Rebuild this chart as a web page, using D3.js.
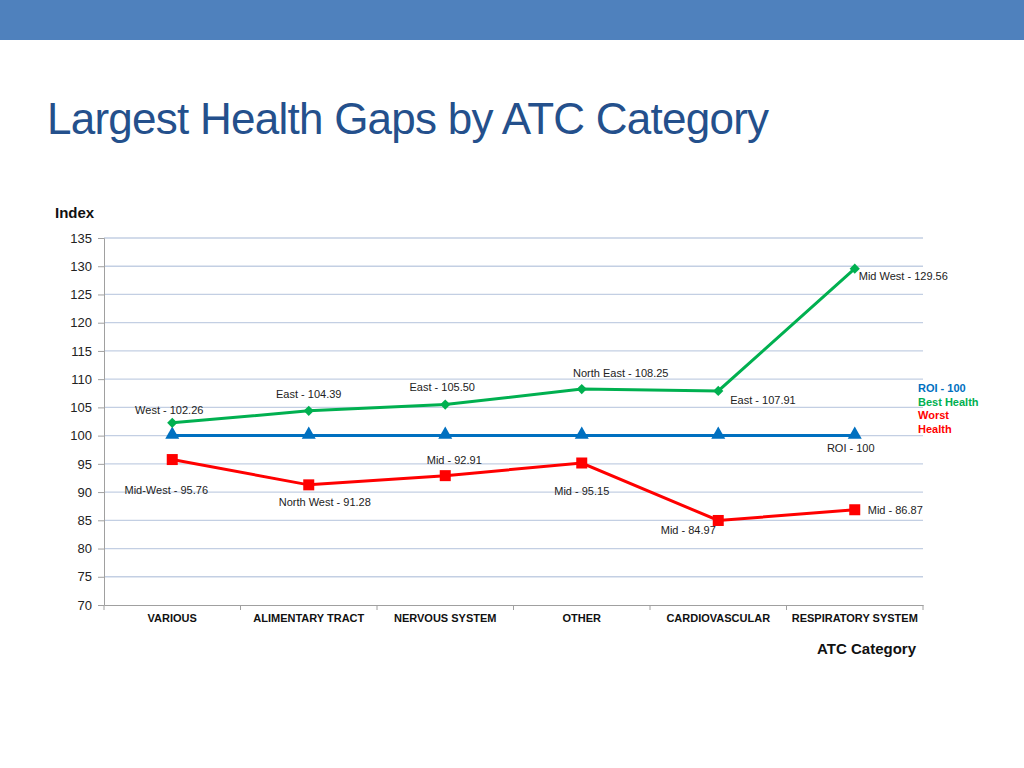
<!DOCTYPE html>
<html><head><meta charset="utf-8">
<script src="https://cdn.jsdelivr.net/npm/d3@7"></script>
<style>body{margin:0;background:#fff;}svg{display:block;font-family:"Liberation Sans",Arial,sans-serif;}</style>
</head><body>
<script>
const categories = ["VARIOUS","ALIMENTARY TRACT","NERVOUS SYSTEM","OTHER","CARDIOVASCULAR","RESPIRATORY SYSTEM"];
const roiValues = [100,100,100,100,100,100];
const bestValues = [102.26,104.39,105.50,108.25,107.91,129.56];
const worstValues = [95.76,91.28,92.91,95.15,84.97,86.87];
const bestLabels = ["West - 102.26","East - 104.39","East - 105.50","North East - 108.25","East - 107.91","Mid West - 129.56"];
const worstLabels = ["Mid-West - 95.76","North West - 91.28","Mid - 92.91","Mid - 95.15","Mid - 84.97","Mid - 86.87"];
const roiLabel = "ROI - 100";
const yTicks = [70,75,80,85,90,95,100,105,110,115,120,125,130,135];

(function(){
const W=1024,H=768;
const svg=d3.select("body").append("svg").attr("width",W).attr("height",H);
svg.append("rect").attr("x",0).attr("y",0).attr("width",W).attr("height",40).attr("fill","#4f81bd");
svg.append("text").attr("x",47).attr("y",134).attr("font-size",44).attr("fill","#24508c")
  .attr("letter-spacing","-0.75").text("Largest Health Gaps by ATC Category");

const pL=104,pR=923,pT=238,pB=605;
const x=d3.scaleBand().domain(categories).range([pL,pR]);
const y=d3.scaleLinear().domain([70,135]).range([pB,pT]);
const cx=c=>x(c)+x.bandwidth()/2;

// grid
svg.append("g").selectAll("line").data(yTicks.filter(t=>t>70)).join("line")
  .attr("x1",pL).attr("x2",pR).attr("y1",d=>y(d)).attr("y2",d=>y(d))
  .attr("stroke","#c3cfe3").attr("stroke-width",1.3);

// y axis
const ya=svg.append("g").attr("transform",`translate(${pL},0)`)
  .call(d3.axisLeft(y).tickValues(yTicks).tickSize(6).tickPadding(6));
ya.select(".domain").attr("stroke","#a0a0a0");
ya.selectAll(".tick line").attr("stroke","#a0a0a0");
ya.selectAll("text").attr("font-size",13).attr("fill","#222").attr("font-family","Liberation Sans, Arial, sans-serif");

// x axis
const xa=svg.append("g").attr("transform",`translate(0,${pB})`)
  .call(d3.axisBottom(x).tickSize(0).tickPadding(9));
xa.select(".domain").attr("stroke","#a0a0a0");
xa.selectAll("text").attr("font-size",11).attr("font-weight","bold").attr("fill","#111").attr("font-family","Liberation Sans, Arial, sans-serif");
svg.append("g").selectAll("line").data(d3.range(categories.length+1)).join("line")
  .attr("x1",i=>pL+i*x.bandwidth()).attr("x2",i=>pL+i*x.bandwidth())
  .attr("y1",pB).attr("y2",pB+5).attr("stroke","#a0a0a0");

svg.append("text").attr("x",55).attr("y",218).attr("font-size",15).attr("font-weight","bold").attr("fill","#111").text("Index");
svg.append("text").attr("x",916).attr("y",654).attr("text-anchor","end").attr("font-size",15).attr("font-weight","bold").attr("fill","#111").text("ATC Category");

const line=d3.line().x((d,i)=>cx(categories[i])).y(d=>y(d));
const green="#00b050",blue="#0070c0",red="#ff0000";

svg.append("path").datum(roiValues).attr("d",line).attr("fill","none").attr("stroke",blue).attr("stroke-width",3);
svg.append("path").datum(bestValues).attr("d",line).attr("fill","none").attr("stroke",green).attr("stroke-width",3);
svg.append("path").datum(worstValues).attr("d",line).attr("fill","none").attr("stroke",red).attr("stroke-width",3);

svg.append("g").selectAll("path").data(roiValues).join("path")
  .attr("d",d3.symbol(d3.symbolTriangle,85)).attr("fill",blue)
  .attr("transform",(d,i)=>`translate(${cx(categories[i])},${y(d)-1})`);
svg.append("g").selectAll("path").data(bestValues).join("path")
  .attr("d",d3.symbol(d3.symbolSquare,52)).attr("fill",green)
  .attr("transform",(d,i)=>`translate(${cx(categories[i])},${y(d)}) rotate(45)`);
svg.append("g").selectAll("rect").data(worstValues).join("rect")
  .attr("x",(d,i)=>cx(categories[i])-5.5).attr("y",d=>y(d)-5.5).attr("width",11).attr("height",11).attr("fill",red);

// data labels: offsets relative to point
const bestOff=[[-3,-9,"middle"],[0,-13,"middle"],[-3,-14,"middle"],[39,-12,"middle"],[12,13,"start"],[4,11,"start"]];
const worstOff=[[-6,34,"middle"],[16,21,"middle"],[9,-12,"middle"],[0,32,"middle"],[-30,14,"middle"],[13,4,"start"]];
const lbl=svg.append("g").attr("font-size",11).attr("fill","#222");
bestValues.forEach((v,i)=>{const o=bestOff[i];lbl.append("text").attr("x",cx(categories[i])+o[0]).attr("y",y(v)+o[1]).attr("text-anchor",o[2]).text(bestLabels[i]);});
worstValues.forEach((v,i)=>{const o=worstOff[i];lbl.append("text").attr("x",cx(categories[i])+o[0]).attr("y",y(v)+o[1]).attr("text-anchor",o[2]).text(worstLabels[i]);});
lbl.append("text").attr("x",cx(categories[5])-4).attr("y",y(100)+16).attr("text-anchor","middle").text(roiLabel);

// legend
const leg=[["ROI - 100",blue],["Best Health",green],["Worst",red],["Health",red]];
svg.append("g").selectAll("text").data(leg).join("text")
  .attr("x",918).attr("y",(d,i)=>392+i*13.5).attr("font-size",11).attr("font-weight","bold")
  .attr("fill",d=>d[1]).text(d=>d[0]);
})();
</script>
</body></html>
